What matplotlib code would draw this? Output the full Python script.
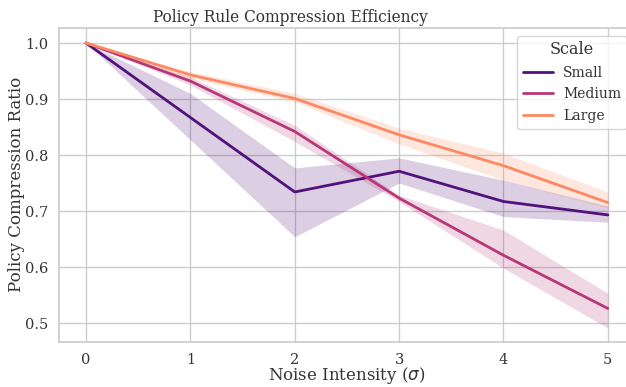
import matplotlib
matplotlib.use('Agg')
import matplotlib.pyplot as plt
import seaborn as sns

sns.set_theme(style='whitegrid')
plt.rcParams['font.family'] = ['DejaVu Serif']

noise = [0, 1, 2, 3, 4, 5]
scales = ['Small', 'Medium', 'Large']

small_mean = [1.0, 0.867, 0.734, 0.771, 0.717, 0.693]
small_lo = [1.0, 0.827, 0.654, 0.750, 0.690, 0.680]
small_hi = [1.0, 0.910, 0.777, 0.795, 0.755, 0.709]

medium_mean = [1.0, 0.932, 0.842, 0.723, 0.621, 0.526]
medium_lo = [1.0, 0.925, 0.824, 0.717, 0.598, 0.491]
medium_hi = [1.0, 0.939, 0.853, 0.728, 0.666, 0.553]

large_mean = [1.0, 0.943, 0.901, 0.836, 0.781, 0.715]
large_lo = [1.0, 0.937, 0.895, 0.820, 0.755, 0.705]
large_hi = [1.0, 0.949, 0.910, 0.848, 0.803, 0.734]

means = [small_mean, medium_mean, large_mean]
los = [small_lo, medium_lo, large_lo]
his = [small_hi, medium_hi, large_hi]
colors = sns.color_palette('magma', 3)

fig = plt.figure(figsize=(6.26, 3.87), dpi=100)
ax = fig.add_axes([59 / 626, 1 - 341.5 / 387, 576 / 626, 314 / 387])

for name, m, lo, hi, c in zip(scales, means, los, his, colors):
    ax.fill_between(noise, lo, hi, color=c, alpha=0.2, linewidth=0)
    ax.plot(noise, m, color=c, linewidth=2, label=name)

ax.set_xlim(-0.259, 5.26)
ax.set_ylim(0.467, 1.0277)
ax.set_xticks(noise)
ax.set_yticks([0.5, 0.6, 0.7, 0.8, 0.9, 1.0])
ax.tick_params(labelsize=10.5, colors='#333333', pad=2)
ax.set_xlabel('Noise Intensity ($\\sigma$)', fontsize=12, color='#333333', labelpad=-1)
ax.set_ylabel('Policy Compression Ratio', fontsize=12, color='#333333', labelpad=0)

# title sits left of the axes centre in the reference
fig.text(290 / 626, 1 - 17 / 387, 'Policy Rule Compression Efficiency', fontsize=12.3,
         fontstretch='condensed', color='#333333', ha='center', va='center')

leg = ax.legend(title='Scale', loc='upper right', bbox_to_anchor=(627 / 626, 1 - 35.5 / 387),
                bbox_transform=fig.transFigure, borderaxespad=0, fontsize=10,
                title_fontsize=11.5, frameon=True, labelspacing=0.55,
                handlelength=2.15, handletextpad=0.75, borderpad=0.4)
for t in leg.get_texts():
    t.set_color('#333333')
leg.get_title().set_color('#333333')

fig.savefig('out.png', dpi=100)
